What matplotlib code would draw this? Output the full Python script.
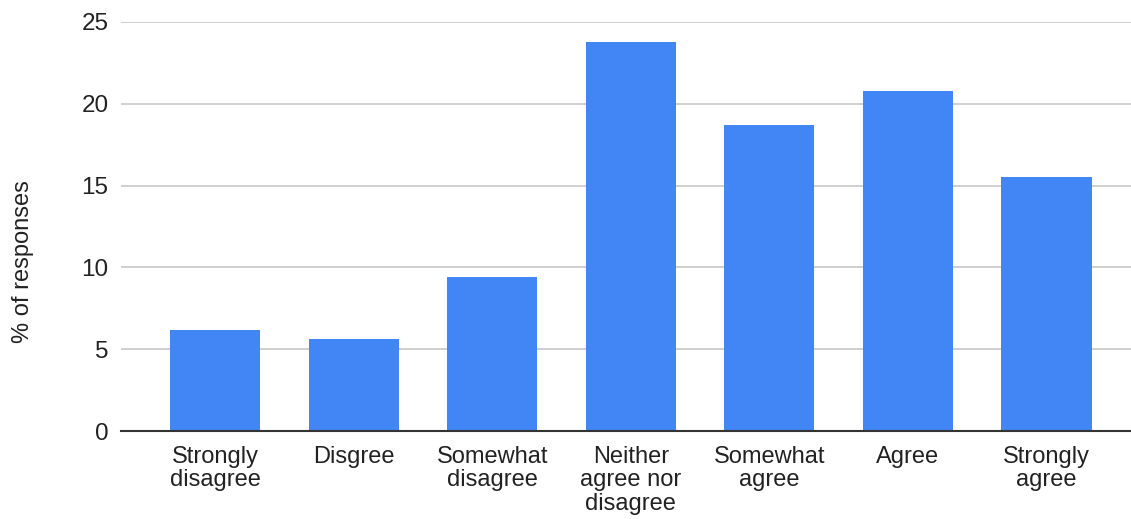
import matplotlib.pyplot as plt

plt.rcParams['font.family'] = ['Liberation Sans', 'DejaVu Sans']

categories = ["Strongly\ndisagree", "Disgree", "Somewhat\ndisagree",
              "Neither\nagree nor\ndisagree", "Somewhat\nagree", "Agree",
              "Strongly\nagree"]
pct_responses = [6.2, 5.6, 9.4, 23.8, 18.7, 20.8, 15.5]
y_ticks = [0, 5, 10, 15, 20, 25]

BAR_COLOR = "#4285F4"
TEXT_COLOR = "#222222"

fig = plt.figure(figsize=(11.31, 5.19), dpi=100)
ax = fig.add_axes([121 / 1131, 1 - 431 / 519, 1 - 121 / 1131, (431 - 22) / 519])

x = range(len(categories))
ax.bar(x, pct_responses, width=0.65, color=BAR_COLOR, zorder=3)

ax.set_xlim(-0.68, 6.61)
ax.set_ylim(0, 25)
ax.set_yticks(y_ticks)
ax.set_xticks(list(x))
ax.set_xticklabels(categories, linespacing=1.1)

ax.grid(axis="y", color="#cccccc", linewidth=1.3, zorder=0)
for side in ["top", "right", "left"]:
    ax.spines[side].set_visible(False)
ax.spines["bottom"].set_color("#333333")
ax.spines["bottom"].set_linewidth(1.5)
ax.spines["bottom"].set_zorder(4)

ax.tick_params(axis="x", length=0, pad=10.5, labelsize=17, labelcolor=TEXT_COLOR)
ax.tick_params(axis="y", length=0, pad=9, labelsize=17.5, labelcolor=TEXT_COLOR)

ax.set_ylabel("% of responses", fontsize=17, color=TEXT_COLOR)
ax.yaxis.set_label_coords(-87 / 1010, 0.415)

fig.savefig("out.png", dpi=100, facecolor="white")
